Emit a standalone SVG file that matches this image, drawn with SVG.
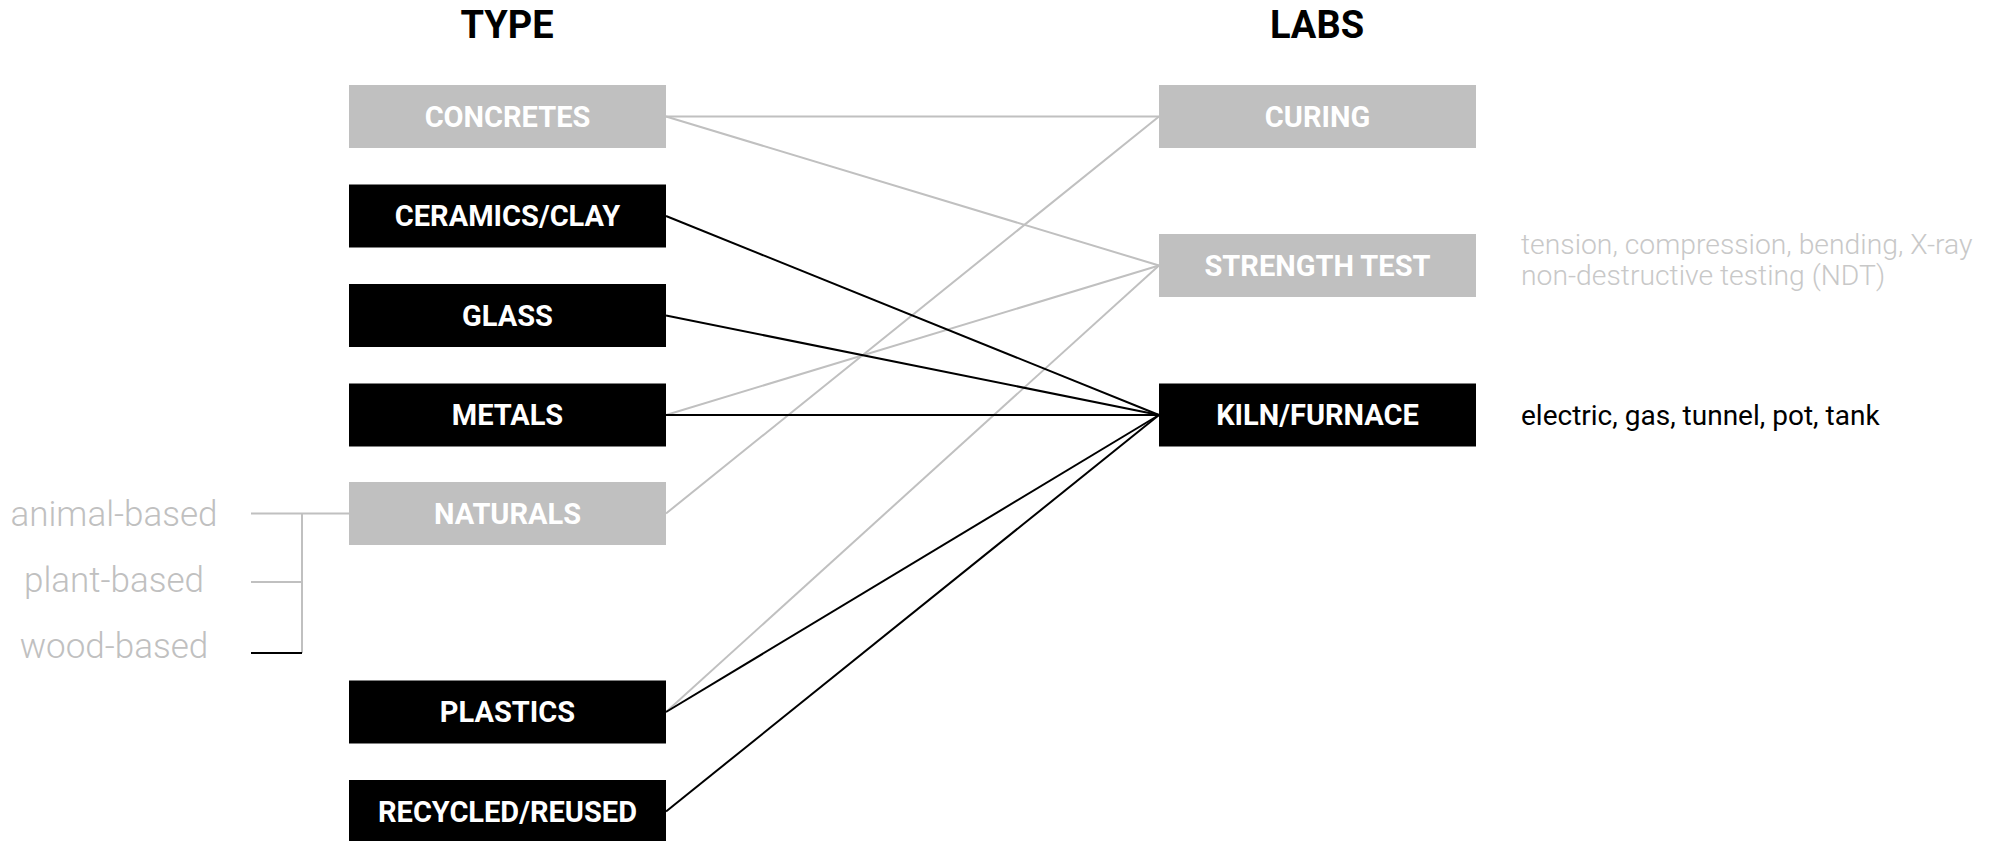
<svg xmlns="http://www.w3.org/2000/svg" width="1997" height="841" viewBox="0 0 1997 841">
<style>
.hdr{font-family:Roboto,"Liberation Sans",sans-serif;font-weight:700;font-size:38px;fill:#000;text-anchor:middle}
.lbl{font-family:Roboto,"Liberation Sans",sans-serif;font-weight:700;font-size:29px;fill:#fff;text-anchor:middle;dominant-baseline:central}
.g rect{fill:#c0c0c0}
.b rect{fill:#000}
.note{font-family:Roboto,"Liberation Sans",sans-serif;font-weight:300;font-size:28.3px;fill:#c8c8c8}
.note2{font-family:Roboto,"Liberation Sans",sans-serif;font-weight:400;font-size:28px;fill:#000}
.sub{font-family:Roboto,"Liberation Sans",sans-serif;font-weight:300;font-size:35px;fill:#c0c0c0;text-anchor:middle;dominant-baseline:central}
.cg{stroke:#c0c0c0;stroke-width:2;fill:none}
.cb{stroke:#000;stroke-width:2;fill:none}
</style>
<rect width="1997" height="841" fill="#fff"/>
<text class="hdr" x="507" y="38">TYPE</text>
<text class="hdr" x="1317" y="38">LABS</text>
<g id="connectors">
<line class="cg" x1="666" y1="116.5" x2="1159" y2="116.5"/>
<line class="cg" x1="666" y1="116.5" x2="1159" y2="265.5"/>
<line class="cg" x1="666" y1="415" x2="1159" y2="265.5"/>
<line class="cg" x1="666" y1="513.5" x2="1159" y2="116.5"/>
<line class="cg" x1="666" y1="712" x2="1159" y2="265.5"/>
<line class="cb" x1="666" y1="216" x2="1159" y2="415"/>
<line class="cb" x1="666" y1="315.5" x2="1159" y2="415"/>
<line class="cb" x1="666" y1="415" x2="1159" y2="415"/>
<line class="cb" x1="666" y1="712" x2="1159" y2="415"/>
<line class="cb" x1="666" y1="811.5" x2="1159" y2="415"/>
<line class="cg" x1="251" y1="513.5" x2="349" y2="513.5"/>
<line class="cg" x1="251" y1="582" x2="302" y2="582"/>
<line class="cg" x1="302" y1="513.5" x2="302" y2="653"/>
<line class="cb" x1="251" y1="653" x2="302" y2="653"/>
</g>
<g id="concretes" class="g"><rect x="349" y="85" width="317" height="63"/><text class="lbl" x="507.5" y="116.5">CONCRETES</text></g>
<g id="ceramics" class="b"><rect x="349" y="184.5" width="317" height="63"/><text class="lbl" x="507.5" y="216">CERAMICS/CLAY</text></g>
<g id="glass" class="b"><rect x="349" y="284" width="317" height="63"/><text class="lbl" x="507.5" y="315.5">GLASS</text></g>
<g id="metals" class="b"><rect x="349" y="383.5" width="317" height="63"/><text class="lbl" x="507.5" y="415">METALS</text></g>
<g id="naturals" class="g"><rect x="349" y="482" width="317" height="63"/><text class="lbl" x="507.5" y="513.5">NATURALS</text></g>
<g id="plastics" class="b"><rect x="349" y="680.5" width="317" height="63"/><text class="lbl" x="507.5" y="712">PLASTICS</text></g>
<g id="recycled" class="b"><rect x="349" y="780" width="317" height="63"/><text class="lbl" x="507.5" y="811.5">RECYCLED/REUSED</text></g>
<g id="curing" class="g"><rect x="1159" y="85" width="317" height="63"/><text class="lbl" x="1317.5" y="116.5">CURING</text></g>
<g id="strength" class="g"><rect x="1159" y="234" width="317" height="63"/><text class="lbl" x="1317.5" y="265.5">STRENGTH TEST</text></g>
<g id="kiln" class="b"><rect x="1159" y="383.5" width="317" height="63"/><text class="lbl" x="1317.5" y="415">KILN/FURNACE</text></g>
<g id="notes">
<text class="note" x="1521" y="254">tension, compression, bending, X-ray</text>
<text class="note" x="1521" y="285">non-destructive testing (NDT)</text>
<text class="note2" x="1521" y="425">electric, gas, tunnel, pot, tank</text>
<text class="sub" x="114" y="514">animal-based</text>
<text class="sub" x="114" y="580">plant-based</text>
<text class="sub" x="114" y="646">wood-based</text>
</g>
</svg>
